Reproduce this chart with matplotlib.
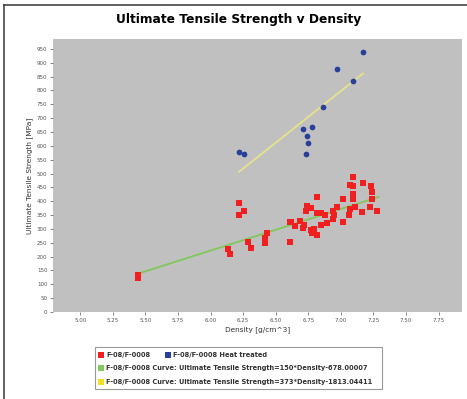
import matplotlib.pyplot as plt
import numpy as np
from matplotlib.lines import Line2D
from matplotlib.patches import Rectangle

# data
red_density = [5.44, 5.44, 6.22, 6.26, 6.22, 6.13, 6.15, 6.29, 6.31, 6.43, 6.42, 6.42,
               6.61, 6.61, 6.62, 6.65, 6.69, 6.71, 6.72, 6.73, 6.74, 6.77, 6.77, 6.78,
               6.79, 6.82, 6.82, 6.82, 6.85, 6.85, 6.88, 6.89, 6.94, 6.94, 6.95, 6.97,
               7.02, 7.02, 7.06, 7.07, 7.07, 7.09, 7.09, 7.09, 7.09, 7.11, 7.16, 7.17,
               7.22, 7.23, 7.24, 7.24, 7.28]
red_uts = [133, 122, 393, 365, 352, 226, 210, 254, 231, 284, 268, 250,
           253, 326, 326, 311, 329, 302, 314, 363, 383, 375, 296, 286,
           299, 417, 359, 278, 359, 314, 350, 320, 366, 335, 350, 380,
           408, 326, 350, 371, 459, 489, 456, 425, 407, 380, 360, 467,
           380, 455, 435, 407, 365]

blue_density = [7.17, 6.97, 7.09, 6.86, 6.71, 6.78, 6.74, 6.75, 6.73, 6.22, 6.26]
blue_uts = [938, 877, 834, 741, 662, 668, 637, 612, 572, 579, 571]

green_fit = (150.0, -678.00007)
green_range = [5.44, 7.29]
yellow_fit = (373.0, -1813.04411)
yellow_range = [6.22, 7.17]

legend_labels = ["F-08/F-0008", "F-08/F-0008 Heat treated",
                 "F-08/F-0008 Curve: Ultimate Tensile Strength=150*Density-678.00007",
                 "F-08/F-0008 Curve: Ultimate Tensile Strength=373*Density-1813.04411"]
legend_colors = ["#f02020", "#2a3f9a", "#7fc85a", "#f0e020"]

fig = plt.figure(figsize=(4.67, 3.99), dpi=100)
W, H = 467.0, 399.0
ax = fig.add_axes([53 / W, 1 - 312 / H, 409 / W, 273 / H])
ax.set_facecolor("#c0c0c0")

gx = np.array(green_range)
ax.plot(gx, green_fit[0] * gx + green_fit[1], color="#7fc85a", lw=1.3, zorder=2)
yx = np.array(yellow_range)
ax.plot(yx, yellow_fit[0] * yx + yellow_fit[1], color="#e6e28a", lw=1.3, zorder=2)

ax.scatter(red_density, red_uts, marker="s", s=15, color="#f02020", linewidths=0, zorder=3)
ax.scatter(blue_density, blue_uts, marker="o", s=17, color="#2a3f9a", linewidths=0, zorder=3)

ax.set_xlim(4.79, 7.93)
ax.set_ylim(0, 986)
ax.set_xticks(np.arange(5.0, 7.76, 0.25))
ax.set_xticklabels([f"{v:.2f}" for v in np.arange(5.0, 7.76, 0.25)])
ax.set_yticks(np.arange(0, 951, 50))
ax.tick_params(labelsize=4, colors="#555555", length=2, width=0.5, pad=2)
for s in ax.spines.values():
    s.set_visible(False)

ax.set_xlabel("Density [g/cm^3]", fontsize=5.3, color="#333333", labelpad=3)
ax.set_ylabel("Ultimate Tensile Strength [MPa]", fontsize=5.3, color="#333333", labelpad=3)
fig.text(239 / W, 1 - 19 / H, "Ultimate Tensile Strength v Density",
         ha="center", va="center", fontsize=8.8, fontweight="bold")

# outer frame (left and top only)
fig.add_artist(Line2D([4 / W, 4 / W], [0, 1 - 5 / H], color="#444444", lw=1.2))
fig.add_artist(Line2D([4 / W, 1], [1 - 5 / H, 1 - 5 / H], color="#444444", lw=1.2))

# legend box
fig.add_artist(Rectangle((95 / W, 1 - 389 / H), 287 / W, 42 / H, transform=fig.transFigure,
                         facecolor="white", edgecolor="#999999", lw=0.8))
rows = [(101, 355, 0), (168, 355, 1), (101, 368, 2), (101, 382, 3)]
for x0, y0, i in rows:
    fig.add_artist(Rectangle(((x0 - 3) / W, 1 - (y0 + 3) / H), 6 / W, 6 / H,
                             transform=fig.transFigure, facecolor=legend_colors[i],
                             edgecolor="none"))
    fig.text((x0 + 5) / W, 1 - y0 / H, legend_labels[i], ha="left", va="center",
             fontsize=4.8, fontweight="bold", color="#333333")

fig.savefig("out.png", dpi=100)
